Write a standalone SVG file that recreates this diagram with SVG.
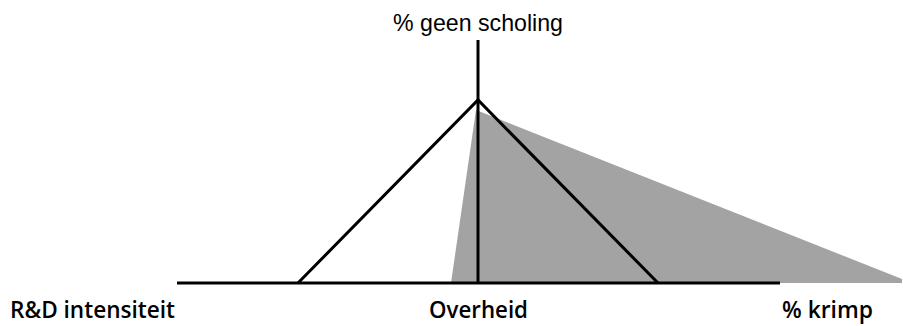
<svg xmlns="http://www.w3.org/2000/svg" width="903" height="326" viewBox="0 0 903 326">
<style>
.ln{stroke:#000;stroke-width:3;fill:none;stroke-linecap:butt}
.t1{font-family:"Liberation Sans",Arial,sans-serif;font-size:24px;fill:#000}
.t2{font-family:"Open Sans","Liberation Sans",sans-serif;font-size:23px;font-weight:600;fill:#000}
</style>
<g id="area">
<polygon points="451,283 476,110 902,279 902,283" fill="#a3a3a3"/>
</g>
<g id="connectors">
<line class="ln" x1="177" y1="283" x2="780" y2="283"/>
<line class="ln" x1="478" y1="40" x2="478" y2="283"/>
<polyline class="ln" points="298,283 478,100 658,283"/>
</g>
<g id="labels">
<text class="t1" x="393" y="31" textLength="170" lengthAdjust="spacingAndGlyphs">% geen scholing</text>
<text class="t2" x="10" y="318" textLength="165" lengthAdjust="spacingAndGlyphs">R&amp;D intensiteit</text>
<text class="t2" x="429" y="318" textLength="99" lengthAdjust="spacingAndGlyphs">Overheid</text>
<text class="t2" x="782" y="318" textLength="91" lengthAdjust="spacingAndGlyphs">% krimp</text>
</g>
</svg>
